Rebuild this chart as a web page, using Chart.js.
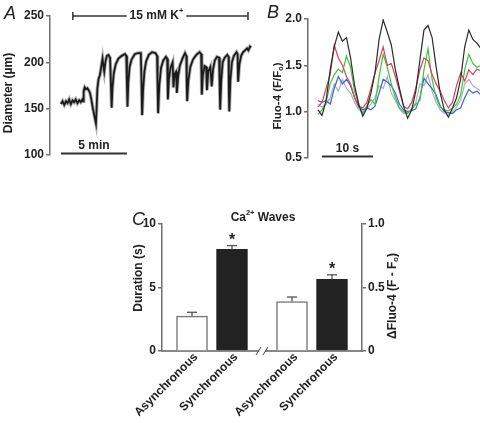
<!DOCTYPE html>
<html>
<head>
<meta charset="utf-8">
<script src="https://cdn.jsdelivr.net/npm/chart.js@4.4.0/dist/chart.umd.min.js"></script>
<style>
  body { margin: 0; background: #fff; }
  #wrap { position: relative; width: 480px; height: 423px; overflow: hidden; }
  canvas { position: absolute; }
</style>
</head>
<body>
<div id="wrap">
  <canvas id="chartA" width="262" height="172" style="left:0;top:0"></canvas>
  <canvas id="chartB" width="218" height="172" style="left:262px;top:0"></canvas>
  <canvas id="chartC" width="310" height="228" style="left:100px;top:195px"></canvas>
</div>
<script>
// --- A: arteriole diameter, [min, um]
const diameterTrace = [
  [0,155],[0.12,158],[0.25,154],[0.38,158],[0.5,156],[0.62,160],[0.75,155],[0.88,159],[1.0,157],[1.12,160],
  [1.25,156],[1.38,159],[1.5,157],[1.62,160],[1.68,158],
  [1.72,169],[1.8,173],[1.9,171],[2.0,172],[2.1,170],[2.2,167],[2.3,160],[2.42,150],[2.55,141],[2.65,134],
  [2.7,150],[2.76,172],[2.85,182],[2.95,186],[3.05,195],[3.15,204],[3.22,196],[3.28,190],[3.36,200],[3.48,207],
  [3.6,208],[3.72,205],
  [3.8,170],[3.84,151],[3.9,172],[4.0,188],[4.15,198],[4.35,204],[4.6,207],[4.85,209],[4.95,207],
  [5.0,175],[5.04,152],[5.1,178],[5.2,195],[5.35,203],[5.6,209],[5.85,210],[6.05,210],
  [6.1,180],[6.15,143],[6.22,170],[6.32,190],[6.45,201],[6.65,208],[6.9,211],[7.15,210],[7.28,207],
  [7.32,175],[7.36,145],[7.45,175],[7.58,194],[7.75,202],[7.95,206],[8.05,204],
  [8.1,160],[8.18,182],[8.3,194],[8.46,200],[8.52,173],[8.62,188],[8.72,190],[8.78,167],[8.88,185],[9.0,196],
  [9.2,204],[9.4,210],[9.5,207],
  [9.53,175],[9.56,158],[9.65,180],[9.8,195],[10.0,203],[10.25,208],[10.5,211],[10.62,209],
  [10.67,165],[10.75,186],[10.88,196],[11.0,195],[11.06,170],[11.16,190],[11.32,195],[11.42,174],[11.52,192],
  [11.65,202],[11.82,206],[11.98,205],
  [12.03,170],[12.06,149],[12.14,180],[12.25,200],[12.4,205],[12.6,208],[12.7,206],
  [12.72,170],[12.75,147],[12.83,180],[12.95,200],[13.1,207],[13.3,211],[13.38,209],
  [13.42,179],[13.52,198],[13.65,207],[13.8,211],[13.95,213],[14.1,215],[14.2,213],[14.32,217],[14.4,216]
];
const diameterTicks = [100, 150, 200, 250];
const kPeriodMin = [0.9, 14.17];   // 15 mM K+ bath
const scaleBarMin = 5;

// --- B: Fluo-4 traces of single cells (F/Fo) vs time, s
const fluoTime = [-0.8,0,0.8,1.6,2.4,3.2,4,4.8,5.6,6.4,7.2,8,8.8,9.6,10.4,11.2,12,12.8,13.6,14.4,15.2,
  16,16.8,17.6,18.4,19.2,20,20.8,21.6,22.4,23.2,24,24.8,25.6,26.4,27.2,28,28.8,29.6,30.4,31.2];
const cellBlack = [1.02,0.96,1.12,1.45,1.70,1.86,1.76,1.80,1.58,1.28,1.08,0.95,1.04,1.20,1.42,1.78,1.99,1.86,1.72,1.45,1.25,
  1.06,0.93,1.02,1.22,1.55,1.88,1.93,1.80,1.48,1.20,1.02,0.94,1.04,1.15,1.35,1.70,1.88,1.78,1.74,1.68];
const cellRed   = [1.05,1.10,1.25,1.40,1.72,1.58,1.50,1.38,1.30,1.15,1.06,1.04,1.10,1.25,1.42,1.55,1.70,1.50,1.52,1.38,1.22,
  1.06,1.03,1.10,1.25,1.45,1.58,1.55,1.40,1.30,1.22,1.12,1.04,1.10,1.28,1.42,1.33,1.45,1.40,1.46,1.44];
const cellGreen = [0.97,1.02,1.10,1.30,1.40,1.46,1.42,1.60,1.48,1.22,1.08,0.98,1.06,1.13,1.08,1.38,1.62,1.48,1.30,1.15,1.04,
  1.00,0.98,1.03,1.08,1.12,1.45,1.68,1.35,1.15,1.05,1.02,1.01,1.04,1.08,1.18,1.45,1.62,1.52,1.48,1.50];
const cellBlue  = [1.12,1.10,1.12,1.08,1.25,1.38,1.30,1.35,1.28,1.15,1.05,1.02,1.04,1.02,1.06,1.20,1.35,1.32,1.28,1.20,1.08,
  1.02,1.00,1.01,1.03,1.15,1.36,1.30,1.25,1.18,1.06,1.00,0.99,0.98,1.02,1.04,1.15,1.24,1.20,1.22,1.18];
const cellGray  = [1.08,1.05,1.08,1.15,1.30,1.22,1.35,1.25,1.20,1.10,1.02,1.00,1.03,1.08,1.15,1.28,1.25,1.38,1.20,1.12,1.03,
  0.98,0.99,1.02,1.10,1.30,1.28,1.40,1.22,1.10,1.02,0.98,0.97,1.00,1.05,1.12,1.30,1.35,1.28,1.25,1.22];
const fluoTicks = [0.5, 1.0, 1.5, 2.0];
const scaleBarSec = 10;

// --- C: Ca2+ wave summary
const groupLabels = ['Asynchronous', 'Synchronous'];
const durationMean = [2.75, 8.0];     // s
const durationSem = [0.3, 0.3];
const fluoMean = [0.39, 0.565];       // dF (F - Fo)
const fluoSem = [0.035, 0.035];
const significant = [false, true];

const FONT = '"Liberation Sans", Arial, Helvetica, sans-serif';
const AXIS = '#6e6e6e';
const INK = '#222';
Chart.defaults.font.family = FONT;
Chart.defaults.color = INK;

// text with sub/superscripts, centred on (x, y)
function richText(ctx, parts, x, y, size, rot) {
  ctx.save();
  ctx.translate(x, y);
  ctx.rotate(rot || 0);
  ctx.fillStyle = INK;
  ctx.textBaseline = 'middle';
  ctx.textAlign = 'left';
  const fonts = parts.map(p => 'bold ' + (p.s ? size * 0.62 : size) + 'px ' + FONT);
  let w = 0;
  parts.forEach((p, i) => { ctx.font = fonts[i]; w += ctx.measureText(p.t).width; });
  let cx = -w / 2;
  parts.forEach((p, i) => {
    ctx.font = fonts[i];
    const dy = p.s === 'sup' ? -size * 0.38 : p.s === 'sub' ? size * 0.25 : 0;
    ctx.fillText(p.t, cx, dy);
    cx += ctx.measureText(p.t).width;
  });
  ctx.restore();
  return w;
}

function panelLetter(ctx, ch, x, y) {
  ctx.save();
  ctx.font = 'italic 18px ' + FONT;
  ctx.fillStyle = INK;
  ctx.textBaseline = 'alphabetic';
  ctx.fillText(ch, x, y);
  ctx.restore();
}

function line(ctx, x1, y1, x2, y2) {
  ctx.beginPath();
  ctx.moveTo(x1, y1);
  ctx.lineTo(x2, y2);
  ctx.stroke();
}

function yScale(min, max, step, width, pos, fmt) {
  return {
    type: 'linear', position: pos, min: min, max: max,
    afterBuildTicks: s => { s.ticks = []; for (let v = min; v <= max + 1e-9; v += step) s.ticks.push({ value: +v.toFixed(3) }); },
    afterFit: s => { s.width = width; },
    ticks: { font: { size: 12, weight: 'bold' }, color: INK, padding: 2, callback: fmt || (v => v) },
    grid: { drawOnChartArea: false, tickLength: 4, color: AXIS, lineWidth: 1.5 },
    border: { color: AXIS, width: 1.5 }
  };
}

const baseOpts = {
  responsive: false,
  animation: false,
  events: [],
  plugins: { legend: { display: false }, tooltip: { enabled: false } }
};

// ---------- A ----------
// first dataset is drawn on top
new Chart(document.getElementById('chartA'), {
  type: 'scatter',
  data: {
    datasets: [
      { data: diameterTrace.map(p => ({ x: p[0], y: p[1] })), showLine: true, pointRadius: 0, borderColor: '#1a1a1a', borderWidth: 1.8 },
      { data: diameterTrace.map(p => ({ x: p[0], y: p[1] })), showLine: true, pointRadius: 0, borderColor: '#b0b0b0', borderWidth: 3.6 }
    ]
  },
  options: Object.assign({}, baseOpts, {
    layout: { padding: { top: 16, bottom: 17, left: 0, right: 7 } },
    scales: {
      x: { type: 'linear', min: -0.83, max: 14.7, display: false },
      y: yScale(diameterTicks[0], diameterTicks[diameterTicks.length - 1], 50, 50, 'left')
    }
  }),
  plugins: [{
    id: 'annotA',
    afterDraw(chart) {
      const { ctx, scales: { x } } = chart;
      panelLetter(ctx, 'A', 4, 19);
      richText(ctx, [{ t: 'Diameter (\u00b5m)' }], 9, 93, 12, -Math.PI / 2);
      ctx.save();
      ctx.strokeStyle = '#333';
      ctx.lineWidth = 1.5;
      // K+ application bar
      const k1 = x.getPixelForValue(kPeriodMin[0]), k2 = x.getPixelForValue(kPeriodMin[1]);
      const cx = (k1 + k2) / 2 - 4, yb = 16;
      const w = richText(ctx, [{ t: '15 mM K' }, { t: '+', s: 'sup' }], cx, yb, 12);
      line(ctx, k1, yb, cx - w / 2 - 3, yb);
      line(ctx, cx + w / 2 + 3, yb, k2, yb);
      line(ctx, k1, yb - 4, k1, yb + 4);
      line(ctx, k2, yb - 4, k2, yb + 4);
      // time scale bar
      const s1 = x.getPixelForValue(0), s2 = x.getPixelForValue(scaleBarMin);
      ctx.lineWidth = 1.8;
      line(ctx, s1, 153.5, s2, 153.5);
      richText(ctx, [{ t: scaleBarMin + ' min' }], (s1 + s2) / 2, 146, 12);
      ctx.restore();
    }
  }]
});

// ---------- B ----------
const cellSeries = [
  { values: cellBlack, color: '#2a2a2a' },
  { values: cellRed, color: '#d8435a' },
  { values: cellGreen, color: '#3cc43c' },
  { values: cellBlue, color: '#3f62cf' },
  { values: cellGray, color: '#a9b0bf' }
];
new Chart(document.getElementById('chartB'), {
  type: 'scatter',
  data: {
    datasets: cellSeries.map(c => ({
      data: fluoTime.map((t, i) => ({ x: t, y: c.values[i] })),
      showLine: true, pointRadius: 0, borderColor: c.color, borderWidth: 1.2
    }))
  },
  options: Object.assign({}, baseOpts, {
    layout: { padding: { top: 19, bottom: 14, left: 0, right: 0 } },
    scales: {
      x: { type: 'linear', min: -2.75, max: 31.0, display: false },
      y: yScale(fluoTicks[0], fluoTicks[fluoTicks.length - 1], 0.5, 46, 'left', v => v.toFixed(1))
    }
  }),
  plugins: [{
    id: 'annotB',
    afterDraw(chart) {
      const { ctx, scales: { x } } = chart;
      panelLetter(ctx, 'B', 5, 18);
      richText(ctx, [{ t: 'Fluo-4 (F/F' }, { t: 'o', s: 'sub' }, { t: ')' }], 16, 96, 11.5, -Math.PI / 2);
      ctx.save();
      ctx.strokeStyle = '#333';
      ctx.lineWidth = 1.8;
      const s1 = x.getPixelForValue(0), s2 = x.getPixelForValue(scaleBarSec);
      line(ctx, s1, 156.5, s2, 156.5);
      richText(ctx, [{ t: scaleBarSec + ' s' }], (s1 + s2) / 2, 149, 12);
      ctx.restore();
    }
  }]
});

// ---------- C ----------
const nSlots = 10;
const durationSlots = [1, 3];
const fluoSlots = [6, 8];
const slotLabels = Array(nSlots).fill('');
const durData = Array(nSlots).fill(null);
const fluoData = Array(nSlots).fill(null);
durationSlots.forEach((s, i) => { slotLabels[s] = groupLabels[i]; durData[s] = durationMean[i]; });
fluoSlots.forEach((s, i) => { slotLabels[s] = groupLabels[i]; fluoData[s] = fluoMean[i]; });
const fillFor = slots => Array(nSlots).fill('#fff').map((c, i) => slots.indexOf(i) === 1 ? '#232323' : c);
const edgeFor = slots => Array(nSlots).fill('#777').map((c, i) => slots.indexOf(i) === 1 ? '#232323' : c);

new Chart(document.getElementById('chartC'), {
  type: 'bar',
  data: {
    labels: slotLabels,
    datasets: [
      { data: durData, yAxisID: 'y', backgroundColor: fillFor(durationSlots), borderColor: edgeFor(durationSlots), borderWidth: 1.5 },
      { data: fluoData, yAxisID: 'y1', backgroundColor: fillFor(fluoSlots), borderColor: edgeFor(fluoSlots), borderWidth: 1.5 }
    ]
  },
  options: Object.assign({}, baseOpts, {
    layout: { padding: { top: 29, bottom: 0, left: 0, right: 0 } },
    datasets: { bar: { barThickness: 31, grouped: false } },
    scales: {
      x: {
        type: 'category', offset: true,
        afterFit: s => { s.height = 72; },
        grid: { display: false },
        border: { color: '#888', width: 2 },
        ticks: { autoSkip: false, minRotation: 45, maxRotation: 45, padding: -9, labelOffset: 4, font: { size: 12, weight: 'bold' }, color: INK }
      },
      y: yScale(0, 10, 5, 62, 'left'),
      y1: yScale(0, 1, 0.5, 48, 'right', v => v === 0 ? '0' : v.toFixed(1))
    }
  }),
  plugins: [{
    id: 'annotC',
    afterDraw(chart) {
      const { ctx, scales: { x } } = chart;
      const groups = [
        { meta: chart.getDatasetMeta(0), slots: durationSlots, mean: durationMean, sem: durationSem, scale: chart.scales.y },
        { meta: chart.getDatasetMeta(1), slots: fluoSlots, mean: fluoMean, sem: fluoSem, scale: chart.scales.y1 }
      ];
      ctx.save();
      ctx.strokeStyle = '#555';
      ctx.lineWidth = 1.3;
      groups.forEach(g => g.slots.forEach((s, i) => {
        const bar = g.meta.data[s];
        const top = g.scale.getPixelForValue(g.mean[i] + g.sem[i]);
        line(ctx, bar.x, bar.y, bar.x, top);
        line(ctx, bar.x - 5, top, bar.x + 5, top);
        if (significant[i]) {
          ctx.font = 'bold 16px ' + FONT;
          ctx.fillStyle = INK;
          ctx.textAlign = 'center';
          ctx.textBaseline = 'alphabetic';
          ctx.fillText('*', bar.x, top - 1);
        }
      }));
      // axis break
      const bx = (x.getPixelForValue(4) + x.getPixelForValue(5)) / 2;
      const by = chart.chartArea.bottom;
      ctx.fillStyle = '#fff';
      ctx.fillRect(bx - 3, by - 2, 6, 4);
      ctx.strokeStyle = '#444';
      ctx.lineWidth = 1;
      line(ctx, bx - 6, by + 4, bx - 1, by - 4);
      line(ctx, bx + 1, by + 4, bx + 6, by - 4);
      ctx.restore();

      panelLetter(ctx, 'C', 32, 30);
      richText(ctx, [{ t: 'Ca' }, { t: '2+', s: 'sup' }, { t: ' Waves' }], 163, 22.5, 12);
      richText(ctx, [{ t: 'Duration (s)' }], 39, 83, 12, -Math.PI / 2);
      richText(ctx, [{ t: '\u0394Fluo-4 (F - F' }, { t: 'o', s: 'sub' }, { t: ')' }], 293, 101, 12, -Math.PI / 2);
    }
  }]
});
</script>
</body>
</html>
